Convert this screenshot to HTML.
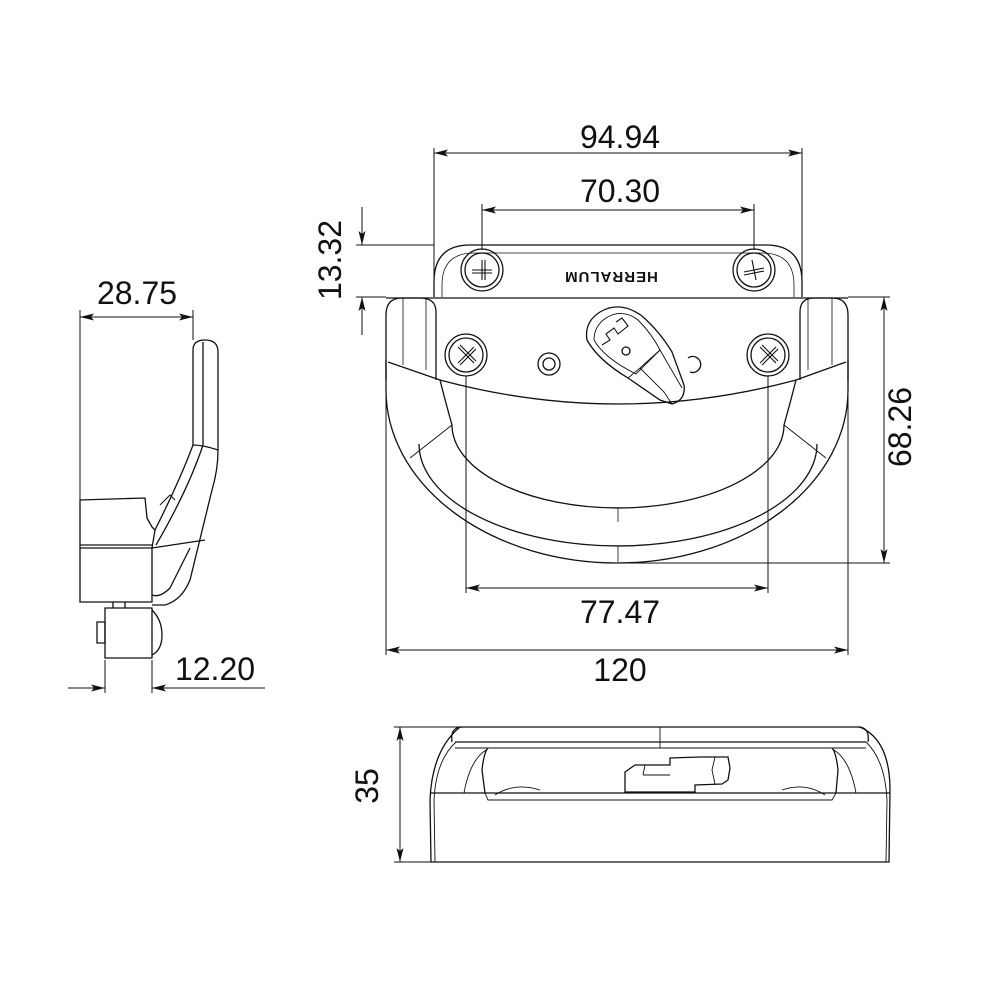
<!DOCTYPE html>
<html><head><style>
html,body{margin:0;padding:0;background:#fff;}
svg{display:block}
text{font-family:"Liberation Sans",sans-serif;fill:#111;}
</style></head><body>
<svg width="1000" height="1000" viewBox="0 0 1000 1000" xmlns="http://www.w3.org/2000/svg">
<defs>
<marker id="a" markerWidth="14" markerHeight="8" refX="14" refY="4" orient="auto-start-reverse" markerUnits="userSpaceOnUse">
<path d="M0,0.5 L14,4 L0,7.5 L3,4 Z" fill="#111"/></marker>
</defs>
<g fill="none" stroke="#111" stroke-width="1.3">
<path d="M434,297 L434,282 Q434,245 470,245 L766,245 Q802,245 802,282 L802,297"/>
<path d="M442,297 L442,285 Q442,253 474,253 L762,253 Q794,253 794,285 L794,297" stroke-width="0.8"/>
<circle cx="482" cy="270" r="21"/><circle cx="482" cy="270" r="17"/>
<path d="M472,270 H492 M482,260 V280 M472,273 H492 M485,260 V280" stroke-width="1.1"/>
<circle cx="754" cy="270" r="21"/><circle cx="754" cy="270" r="17"/>
<path d="M744,272 L764,268 M752,260 L756,280 M744,275 L764,271" stroke-width="1.1"/>
<path d="M386,380 L386,315 Q386,298 402,298 L420,298 Q436,298 436,312 L436,380"/>
<path d="M800,380 L800,312 Q800,298 814,298 L832,298 Q848,298 848,315 L848,380"/>
<path d="M403,298 V365 M426,298 V370 M808,298 V370 M832,298 V365" stroke-width="0.8"/>
<line x1="386" y1="298" x2="848" y2="298"/>
<path d="M386,360 L386,390 A231,173 0 0 0 848,390 L848,360"/>
<path d="M388,362 L440,380 M846,362 L796,380"/>
<path d="M440,380 Q618,428 796,380"/>
<path d="M440,380 Q445,400 452,425 A166,83 0 0 0 784,425 Q791,400 796,380"/>
<path d="M410,458 L452,425 M826,458 L784,425" stroke-width="0.9"/>
<path d="M419,444 A199,102 0 0 0 817,444"/>
<path d="M618,508 V522 M618,546 V562" stroke-width="0.8"/>
<circle cx="466" cy="355" r="21"/><circle cx="466" cy="355" r="17"/>
<path d="M458,347 L474,363 M474,347 L458,363 M460,345 L476,361 M476,349 L460,365" stroke-width="1.1"/>
<circle cx="768" cy="355" r="21"/><circle cx="768" cy="355" r="17"/>
<path d="M760,347 L776,363 M776,347 L760,363 M762,345 L778,361 M778,349 L762,365" stroke-width="1.1"/>
<circle cx="549" cy="364" r="11"/><circle cx="549" cy="364" r="6"/>
<path d="M690,372 A8,8 0 1 0 688,358" />
<path d="M600,312 Q620,300 642,316 Q660,332 672,352 L684,385 Q686,400 672,404 L660,400 L628,378 Q598,360 587,340 Q584,322 600,312 Z"/>
<path d="M606,318 Q622,308 638,320 Q652,334 660,350 L636,374 Q604,358 594,340 Q594,326 606,318 Z" stroke-width="0.9"/>
<path d="M628,378 L640,368 L664,392 L672,404 M640,368 L660,350 L682,388" stroke-width="0.9"/>
<path d="M602,345 L610,340 L606,334 L614,328 L618,334 L628,326 L622,318 L616,322" stroke-width="1.1"/>
<circle cx="626" cy="351" r="4"/>
</g>
<text x="611" y="282" font-size="15" font-weight="bold" text-anchor="middle" transform="rotate(180 611 277)" letter-spacing="1">HERRALUM</text>

<g stroke="#111" stroke-width="1" fill="none">
<line x1="434" y1="148" x2="434" y2="296"/><line x1="802" y1="148" x2="802" y2="296"/>
<line x1="434" y1="153" x2="802" y2="153" marker-start="url(#a)" marker-end="url(#a)"/>
<line x1="482" y1="204" x2="482" y2="250"/><line x1="754" y1="204" x2="754" y2="250"/>
<line x1="482" y1="210" x2="754" y2="210" marker-start="url(#a)" marker-end="url(#a)"/>
<line x1="356" y1="245" x2="434" y2="245"/><line x1="356" y1="297" x2="386" y2="297"/>
<line x1="362" y1="207" x2="362" y2="245" marker-end="url(#a)"/><line x1="362" y1="335" x2="362" y2="297" marker-end="url(#a)"/>
<line x1="848" y1="297" x2="890" y2="297"/><line x1="618" y1="563" x2="890" y2="563"/>
<line x1="884" y1="297" x2="884" y2="563" marker-start="url(#a)" marker-end="url(#a)"/>
<line x1="466" y1="376" x2="466" y2="593"/><line x1="768" y1="376" x2="768" y2="593"/>
<line x1="466" y1="588" x2="768" y2="588" marker-start="url(#a)" marker-end="url(#a)"/>
<line x1="386" y1="390" x2="386" y2="655"/><line x1="848" y1="390" x2="848" y2="655"/>
<line x1="386" y1="650" x2="848" y2="650" marker-start="url(#a)" marker-end="url(#a)"/>
</g>
<g font-size="32">
<text x="620" y="148" text-anchor="middle">94.94</text>
<text x="620" y="202" text-anchor="middle">70.30</text>
<text x="620" y="623" text-anchor="middle">77.47</text>
<text x="620" y="681" text-anchor="middle">120</text>
<text x="352" y="271" text-anchor="middle" transform="rotate(-90 341 271)">13.32</text>
<text x="922" y="438" text-anchor="middle" transform="rotate(-90 911 438)">68.26</text>
<text x="137" y="304" text-anchor="middle">28.75</text>
<text x="215" y="680" text-anchor="middle">12.20</text>
<text x="389" y="797" text-anchor="middle" transform="rotate(-90 378 797)">35</text>
</g>

<g fill="none" stroke="#111" stroke-width="1.3">
<path d="M193,445 L193,350 Q193,340 205,340 Q218,340 218,352 L218,450 Q218,470 212,490 L190,580 Q182,600 165,605 L152,605"/>
<line x1="203" y1="342" x2="203" y2="445"/>
<path d="M193,445 Q203,445 218,450"/>
<path d="M193,445 Q180,480 155,530 M203,445 Q188,490 156,545"/>
<path d="M80,500 L145,498 L147,518 L152,527 L155,530 L152,548 L80,548 Z"/>
<path d="M160,505 L170,495 L175,500" stroke-width="1"/>
<path d="M80,545 L152,545 M152,548 L205,540 M152,595 Q160,598 170,588 L190,548"/>
<path d="M80,548 L80,602 L152,602 L152,548"/>
<path d="M105,608 L152,608 L152,658 L105,658 Z"/>
<path d="M152,610 Q162,620 162,635 Q162,650 152,655"/>
<path d="M97,622 L105,622 L105,643 L97,643 Z M113,602 V608 M125,602 V608"/>
</g>
<g stroke="#111" stroke-width="1" fill="none">
<line x1="80" y1="310" x2="80" y2="500"/><line x1="193" y1="310" x2="193" y2="340"/>
<line x1="80" y1="317" x2="193" y2="317" marker-start="url(#a)" marker-end="url(#a)"/>
<line x1="105" y1="660" x2="105" y2="693"/><line x1="152" y1="660" x2="152" y2="693"/>
<line x1="68" y1="688" x2="105" y2="688" marker-end="url(#a)"/>
<line x1="265" y1="688" x2="152" y2="688" marker-end="url(#a)"/>
</g>

<g fill="none" stroke="#111" stroke-width="1.3">
<path d="M431,862 L430,800 Q432,750 460,727 L860,727 Q890,740 890,790 L889,862 Z"/>
<path d="M435,862 L434,800 Q436,760 456,742 M886,862 L887,800 Q885,760 866,742" stroke-width="0.9"/>
<path d="M452,742 Q450,727 462,727 M868,742 Q870,727 858,727"/>
<line x1="455" y1="742" x2="866" y2="742"/><line x1="455" y1="748" x2="866" y2="748" stroke-width="0.9"/>
<line x1="660" y1="727" x2="660" y2="748" stroke-width="0.9"/>
<path d="M430,793 L890,793"/>
<path d="M485,793 L482,770 Q484,752 488,748 M836,793 L838,770 Q836,752 832,748"/>
<path d="M464,793 Q470,760 486,750 M856,793 Q850,760 834,750" stroke-width="0.9"/>
<path d="M485,793 L488,800 L832,800 L836,793" stroke-width="0.9"/>
<path d="M495,795 Q515,782 540,790 M782,790 Q805,782 825,795" stroke-width="0.9"/>
<path d="M625,792 L625,772 L635,765 L670,765 L670,758 L700,757 L728,757 L730,768 L728,780 L722,784 L695,785 L695,792 Z"/>
<path d="M643,775 L645,765 M643,775 L670,775 M715,757 L712,770 L715,784" stroke-width="0.9"/>
</g>
<g stroke="#111" stroke-width="1" fill="none">
<line x1="394" y1="727" x2="460" y2="727"/><line x1="394" y1="862" x2="431" y2="862"/>
<line x1="400" y1="727" x2="400" y2="862" marker-start="url(#a)" marker-end="url(#a)"/>
</g>
</svg>
</body></html>
